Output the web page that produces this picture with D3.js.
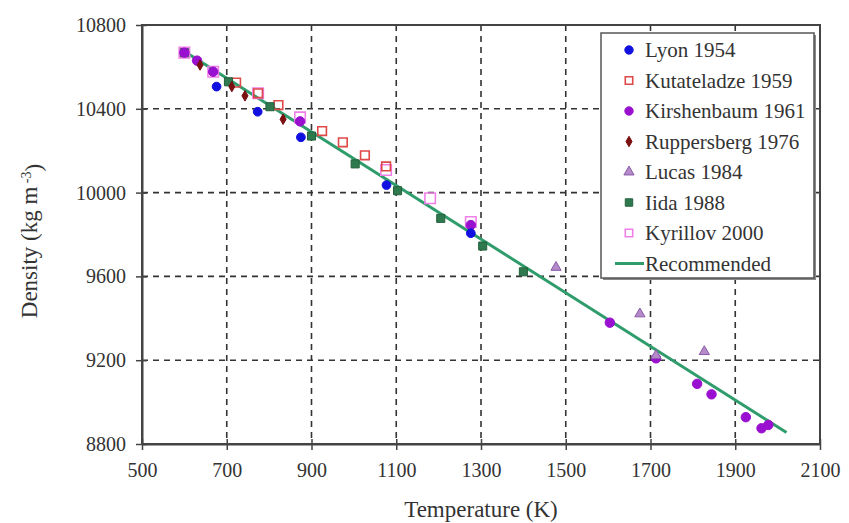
<!DOCTYPE html>
<html><head><meta charset="utf-8">
<script src="https://cdn.jsdelivr.net/npm/d3@7"></script>
<style>
body{margin:0;background:#fff;}
svg text{font-family:"Liberation Serif",serif !important;}
</style></head>
<body><svg id="c" width="849" height="523" font-family="Liberation Serif"></svg>
<script>
// ---- data ----
const xTicks = [500, 700, 900, 1100, 1300, 1500, 1700, 1900, 2100];
const yTicks = [8800, 9200, 9600, 10000, 10400, 10800];

const lyonT = [676, 773, 875, 1077, 1276];
const lyonD = [10506, 10386, 10264, 10036, 9806];

const kutT = [722, 774, 822, 925, 974, 1026, 1076];
const kutD = [10525, 10474, 10418, 10294, 10240, 10178, 10125];

const kirT = [600, 630, 668, 873, 1276, 1604, 1713, 1810, 1844, 1925, 1962, 1978];
const kirD = [10668, 10630, 10577, 10340, 9845, 9379, 9209, 9087, 9037, 8928, 8875, 8891];

const rupT = [637, 712, 743, 833];
const rupD = [10609, 10506, 10462, 10350];

const lucT = [1477, 1675, 1713, 1827];
const lucD = [9643, 9421, 9222, 9241];

const iidaT = [600, 704, 802, 900, 1003, 1103, 1205, 1304, 1400];
const iidaD = [10668, 10529, 10410, 10270, 10137, 10009, 9877, 9745, 9622];

const kyrT = [600, 668, 774, 873, 1076, 1180, 1276];
const kyrD = [10668, 10577, 10474, 10359, 10108, 9973, 9860];

const recT = [600.6, 2021];
const recD = [10673, 8855];

const legendNames = ["Lyon 1954", "Kutateladze 1959", "Kirshenbaum 1961", "Ruppersberg 1976", "Lucas 1984", "Iida 1988", "Kyrillov 2000", "Recommended"];

// ---- chart ----
const W = 849, H = 523;
const m = {l: 142, r: 29, t: 25, b: 79};
const FONT = "Liberation Serif";
const svg = d3.select("#c");
const x = d3.scaleLinear().domain([500, 2100]).range([m.l, W - m.r]);
const y = d3.scaleLinear().domain([8800, 10800]).range([H - m.b, m.t]);

// grid
const g = svg.append("g");
g.selectAll(".vg").data(xTicks.slice(1, -1)).enter().append("line")
  .attr("x1", d => x(d)).attr("x2", d => x(d)).attr("y1", y(10800)).attr("y2", y(8800))
  .attr("stroke", "#333").attr("stroke-width", 1.6).attr("stroke-dasharray", "6,5");
g.selectAll(".hg").data(yTicks.slice(1, -1)).enter().append("line")
  .attr("y1", d => y(d)).attr("y2", d => y(d)).attr("x1", x(500)).attr("x2", x(2100))
  .attr("stroke", "#333").attr("stroke-width", 1.6).attr("stroke-dasharray", "6,5");

// axes
const xa = svg.append("g").attr("transform", `translate(0,${y(8800)})`)
  .call(d3.axisBottom(x).tickValues(xTicks).tickFormat(d3.format("d")).tickSizeInner(6).tickSizeOuter(0).tickPadding(10));
const ya = svg.append("g").attr("transform", `translate(${x(500)},0)`)
  .call(d3.axisLeft(y).tickValues(yTicks).tickFormat(d3.format("d")).tickSizeInner(6).tickSizeOuter(0).tickPadding(10));
[xa, ya].forEach(a => {
  a.attr("font-family", FONT).attr("font-size", 20);
  a.select(".domain").attr("stroke", "#444").attr("stroke-width", 2);
  a.selectAll(".tick line").attr("stroke", "#444").attr("stroke-width", 1.5);
  a.selectAll("text").attr("font-family", FONT).style("font-size", "20px").attr("fill", "#333");
});
xa.selectAll(".tick line").attr("y1", -5);
ya.selectAll(".tick line").attr("x1", 5).attr("x2", -6);
xa.selectAll("text").attr("dy", "0.85em");

// frame
svg.append("rect").attr("x", x(500)).attr("y", y(10800)).attr("width", x(2100) - x(500)).attr("height", y(8800) - y(10800))
  .attr("fill", "none").attr("stroke", "#444").attr("stroke-width", 2);

// recommended line
const line = d3.line().x(d => x(d[0])).y(d => y(d[1]));
svg.append("path").datum(recT.map((t, i) => [t, recD[i]])).attr("d", line)
  .attr("fill", "none").attr("stroke", "#2f9c6c").attr("stroke-width", 3);

// marker helpers
function zip(T, D) { return T.map((t, i) => [t, D[i]]); }
const sym = {
  lyon: {type: d3.symbolCircle, size: 60, fill: "#1010e0", stroke: "#1010e0", sw: 1},
  kut: {type: d3.symbolSquare, size: 75, fill: "none", stroke: "#e04848", sw: 1.6},
  kir: {type: d3.symbolCircle, size: 70, fill: "#9a10d0", stroke: "#9a10d0", sw: 1},
  rup: {type: d3.symbolDiamond, size: 32, fill: "#7a1010", stroke: "#7a1010", sw: 1},
  luc: {type: d3.symbolTriangle, size: 45, fill: "#b48ac8", stroke: "#8a5aa8", sw: 1},
  iida: {type: d3.symbolSquare, size: 65, fill: "#2e7a4e", stroke: "#24603c", sw: 1},
  kyr: {type: d3.symbolSquare, size: 110, fill: "none", stroke: "#f080e8", sw: 1.6}
};
function drawSeries(key, T, D) {
  const s = sym[key];
  svg.append("g").selectAll("path").data(zip(T, D)).enter().append("path")
    .attr("transform", d => `translate(${x(d[0])},${y(d[1])})`)
    .attr("d", d3.symbol().type(s.type).size(s.size))
    .attr("fill", s.fill).attr("stroke", s.stroke).attr("stroke-width", s.sw);
}
drawSeries("kyr", kyrT, kyrD);
drawSeries("kut", kutT, kutD);
drawSeries("iida", iidaT, iidaD);
drawSeries("kir", kirT, kirD);
drawSeries("lyon", lyonT, lyonD);
drawSeries("rup", rupT, rupD);
drawSeries("luc", lucT, lucD);

// axis titles
svg.append("text").attr("x", 481).attr("y", 517).attr("text-anchor", "middle")
  .attr("font-family", FONT).style("font-size", "23px").attr("fill", "#333").text("Temperature (K)");
const yt = svg.append("text").attr("transform", "translate(37,241) rotate(-90)").attr("text-anchor", "middle")
  .attr("font-family", FONT).style("font-size", "23px").attr("fill", "#333");
yt.append("tspan").text("Density (kg m");
yt.append("tspan").attr("dy", "-0.45em").style("font-size", "14px").text(" -3");
yt.append("tspan").attr("dy", "0.45em").text(")");

// legend
const lg = svg.append("g");
const lx = 601, ly = 33, lw = 213, lh = 245;
lg.append("rect").attr("x", lx + 2).attr("y", ly + 2).attr("width", lw).attr("height", lh).attr("fill", "#888");
lg.append("rect").attr("x", lx).attr("y", ly).attr("width", lw).attr("height", lh).attr("fill", "#fff")
  .attr("stroke", "#555").attr("stroke-width", 1.5);
const keys = ["lyon", "kut", "kir", "rup", "luc", "iida", "kyr"];
legendNames.forEach((name, i) => {
  const yy = ly + 17 + i * 30.5;
  if (i < 7) {
    const s = sym[keys[i]];
    lg.append("path").attr("transform", `translate(${lx + 28},${yy})`)
      .attr("d", d3.symbol().type(s.type).size(Math.min(s.size, 55)))
      .attr("fill", s.fill).attr("stroke", s.stroke).attr("stroke-width", s.sw);
  } else {
    lg.append("line").attr("x1", lx + 14).attr("x2", lx + 43).attr("y1", yy).attr("y2", yy)
      .attr("stroke", "#2f9c6c").attr("stroke-width", 3);
  }
  lg.append("text").attr("x", lx + 44).attr("y", yy).attr("dy", "0.35em")
    .attr("font-family", FONT).style("font-size", "21px").attr("fill", "#333").text(name);
});
</script></body></html>
